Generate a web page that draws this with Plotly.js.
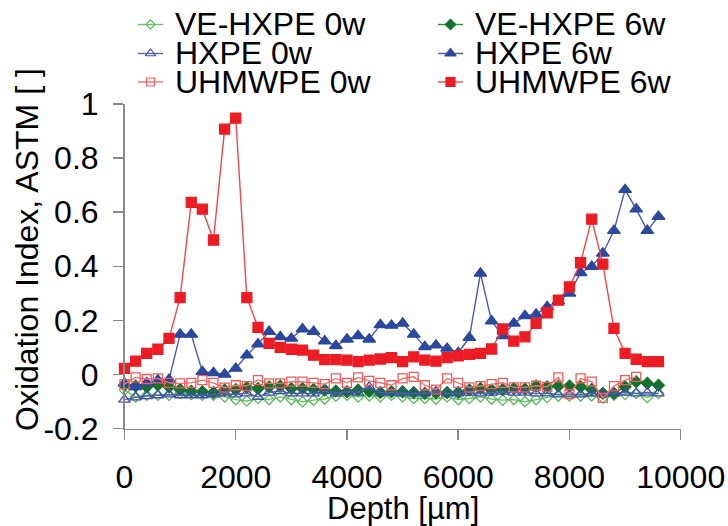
<!DOCTYPE html>
<html>
<head>
<meta charset="utf-8">
<script src="https://cdn.plot.ly/plotly-3.0.1.min.js"></script>
<style>html,body{margin:0;padding:0;background:#fff;}#chart{width:728px;height:526px;}</style>
</head>
<body>
<div id="chart"></div>
<script>
// ---- data ----
const depth = [0,200,400,600,800,1000,1200,1400,1600,1800,2000,2200,2400,2600,2800,3000,3200,3400,3600,3800,4000,4200,4400,4600,4800,5000,5200,5400,5600,5800,6000,6200,6400,6600,6800,7000,7200,7400,7600,7800,8000,8200,8400,8600,8800,9000,9200,9400,9600];

const veHxpe0w = [-0.058,-0.083,-0.077,-0.077,-0.077,-0.070,-0.074,-0.077,-0.077,-0.083,-0.093,-0.098,-0.089,-0.093,-0.083,-0.093,-0.101,-0.095,-0.091,-0.080,-0.077,-0.083,-0.079,-0.083,-0.077,-0.083,-0.089,-0.089,-0.091,-0.083,-0.093,-0.089,-0.083,-0.091,-0.095,-0.093,-0.101,-0.093,-0.085,-0.080,-0.079,-0.080,-0.079,-0.087,-0.077,-0.074,-0.070,-0.085,-0.070];
const veHxpe6w = [-0.040,-0.043,-0.046,-0.039,-0.046,-0.056,-0.062,-0.064,-0.067,-0.058,-0.056,-0.048,-0.052,-0.046,-0.043,-0.052,-0.052,-0.056,-0.058,-0.061,-0.064,-0.058,-0.062,-0.067,-0.064,-0.064,-0.067,-0.070,-0.068,-0.067,-0.067,-0.058,-0.052,-0.058,-0.056,-0.052,-0.054,-0.043,-0.046,-0.043,-0.043,-0.046,-0.056,-0.070,-0.070,-0.046,-0.027,-0.033,-0.040];
const hxpe0w = [-0.093,-0.085,-0.080,-0.077,-0.074,-0.077,-0.077,-0.077,-0.074,-0.070,-0.074,-0.070,-0.083,-0.067,-0.062,-0.070,-0.070,-0.070,-0.062,-0.070,-0.064,-0.067,-0.046,-0.067,-0.067,-0.070,-0.070,-0.070,-0.064,-0.070,-0.070,-0.067,-0.070,-0.067,-0.064,-0.067,-0.067,-0.070,-0.070,-0.074,-0.074,-0.074,-0.070,-0.074,-0.070,-0.067,-0.070,-0.067,-0.070];
const hxpe6w = [-0.033,-0.046,-0.031,-0.021,-0.019,0.148,0.148,0.010,0.006,0.000,0.022,0.071,0.112,0.158,0.139,0.133,0.168,0.158,0.123,0.106,0.130,0.143,0.130,0.183,0.181,0.189,0.148,0.102,0.108,0.096,0.080,0.136,0.374,0.197,0.143,0.189,0.217,0.222,0.250,0.271,0.300,0.376,0.399,0.448,0.532,0.683,0.611,0.532,0.584];
const uhmwpe0w = [-0.036,-0.011,-0.017,-0.015,-0.031,-0.033,-0.031,-0.021,-0.031,-0.049,-0.040,-0.043,-0.021,-0.033,-0.033,-0.027,-0.027,-0.031,-0.036,-0.015,-0.031,-0.011,-0.024,-0.031,-0.040,-0.015,-0.009,-0.040,-0.056,-0.015,-0.031,-0.048,-0.043,-0.036,-0.031,-0.048,-0.048,-0.042,-0.046,-0.011,-0.073,-0.015,-0.027,-0.087,-0.043,-0.021,-0.009];
const uhmwpe6w = [0.022,0.049,0.078,0.093,0.133,0.284,0.636,0.611,0.497,0.907,0.948,0.284,0.174,0.115,0.100,0.093,0.090,0.071,0.055,0.055,0.053,0.047,0.053,0.057,0.062,0.047,0.065,0.053,0.049,0.062,0.069,0.074,0.078,0.094,0.168,0.123,0.139,0.189,0.228,0.275,0.324,0.413,0.574,0.408,0.170,0.078,0.056,0.047,0.047];

const seriesNames = ["VE-HXPE 0w","VE-HXPE 6w","HXPE 0w","HXPE 6w","UHMWPE 0w","UHMWPE 6w"];
const seriesValues = [veHxpe0w, veHxpe6w, hxpe0w, hxpe6w, uhmwpe0w, uhmwpe6w];

const xTickVals = [0,2000,4000,6000,8000,10000];
const yTickVals = [-0.2,0,0.2,0.4,0.6,0.8,1];
const yTickText = ["-0.2","0","0.2","0.4","0.6","0.8","1"];
const xTitle = "Depth [µm]";
const yTitle = "Oxidation Index, ASTM [ ]";

// ---- styles ----
const styles = [
  {symbol:"diamond-open", color:"#5cb85c", line:"#6cc06c", size:8},
  {symbol:"diamond", color:"#12722a", line:"#2a8a3e", size:9},
  {symbol:"triangle-up-open", color:"#3d4fab", line:"#5563b3", size:10},
  {symbol:"triangle-up", color:"#2b479e", line:"#4a5cae", size:11},
  {symbol:"square-open", color:"#f05a5a", line:"#f37070", size:9},
  {symbol:"square", color:"#ec1c24", line:"#f04848", size:10}
];
// legend placement (pixels in the 728x526 figure)
const legendCols = [{x0:138, x1:163, tx:173}, {x0:438, x1:463, tx:473}];
const legendRows = [24.5, 53.5, 82];
const W = 728, H = 526;

const FONT = "Arial, 'Liberation Sans', sans-serif";
const traces = [];
seriesValues.forEach((vals, i) => {
  const s = styles[i];
  traces.push({
    type:"scatter", mode:"lines+markers", name:seriesNames[i],
    x: depth.slice(0, vals.length), y: vals,
    xaxis:"x", yaxis:"y", cliponaxis:false, showlegend:false,
    line:{color:s.line, width:1.4},
    marker:{symbol:s.symbol, size:s.size, color:s.color, line:{color:s.color, width:1.3}}
  });
});
// legend samples drawn on a full-figure helper axis
const annotations = [];
seriesValues.forEach((vals, i) => {
  const s = styles[i];
  const col = legendCols[i % 2], ry = legendRows[Math.floor(i / 2)];
  traces.push({
    type:"scatter", mode:"lines+markers", x:[col.x0, (col.x0+col.x1)/2, col.x1], y:[ry, ry, ry],
    xaxis:"x2", yaxis:"y2", cliponaxis:false, showlegend:false, hoverinfo:"skip",
    line:{color:s.line, width:1.4},
    marker:{symbol:s.symbol, size:s.size-1, color:s.color, opacity:[0,1,0], line:{color:s.color, width:1.2}}
  });
  annotations.push({
    xref:"paper", yref:"paper", x: col.tx / W, y: 1 - ry / H, xanchor:"left", yanchor:"middle",
    text: seriesNames[i], showarrow:false, font:{family:FONT, size:32, color:"#000"}
  });
});
annotations.push({
  xref:"paper", yref:"paper", x: 402.6 / W, y: 1 - 508 / H, xanchor:"center", yanchor:"middle",
  text: xTitle, showarrow:false, font:{family:FONT, size:31, color:"#000"}
});
annotations.push({
  xref:"paper", yref:"paper", x: 27 / W, y: 1 - 250 / H, xanchor:"center", yanchor:"middle",
  text: yTitle, textangle:-90, showarrow:false, font:{family:FONT, size:32, color:"#000"}
});

const axisCommon = {
  showgrid:false, zeroline:false, showline:true, linecolor:"#8a8a8a", linewidth:1.5,
  ticks:"outside", ticklen:10, tickwidth:1.5, tickcolor:"#8a8a8a",
  tickfont:{family:FONT, size:32, color:"#000"}
};
const layout = {
  width:W, height:H, margin:{l:0, r:0, t:0, b:0},
  paper_bgcolor:"#fff", plot_bgcolor:"rgba(0,0,0,0)", showlegend:false,
  xaxis: Object.assign({}, axisCommon, {domain:[124.5/W, 680.7/W], range:[0,10000], tickvals:xTickVals, ticktext:xTickVals.map(String), anchor:"y", ticklabelstandoff:10}),
  yaxis: Object.assign({}, axisCommon, {domain:[1-428.5/H, 1-104/H], range:[-0.2,1], tickvals:yTickVals, ticktext:yTickText, anchor:"x", ticklabelstandoff:8}),
  xaxis2:{domain:[0,1], range:[0,W], visible:false, anchor:"y2", fixedrange:true},
  yaxis2:{domain:[0,1], range:[H,0], visible:false, anchor:"x2", fixedrange:true},
  annotations: annotations
};
Plotly.newPlot("chart", traces, layout, {staticPlot:true, displayModeBar:false});
</script>
</body>
</html>
